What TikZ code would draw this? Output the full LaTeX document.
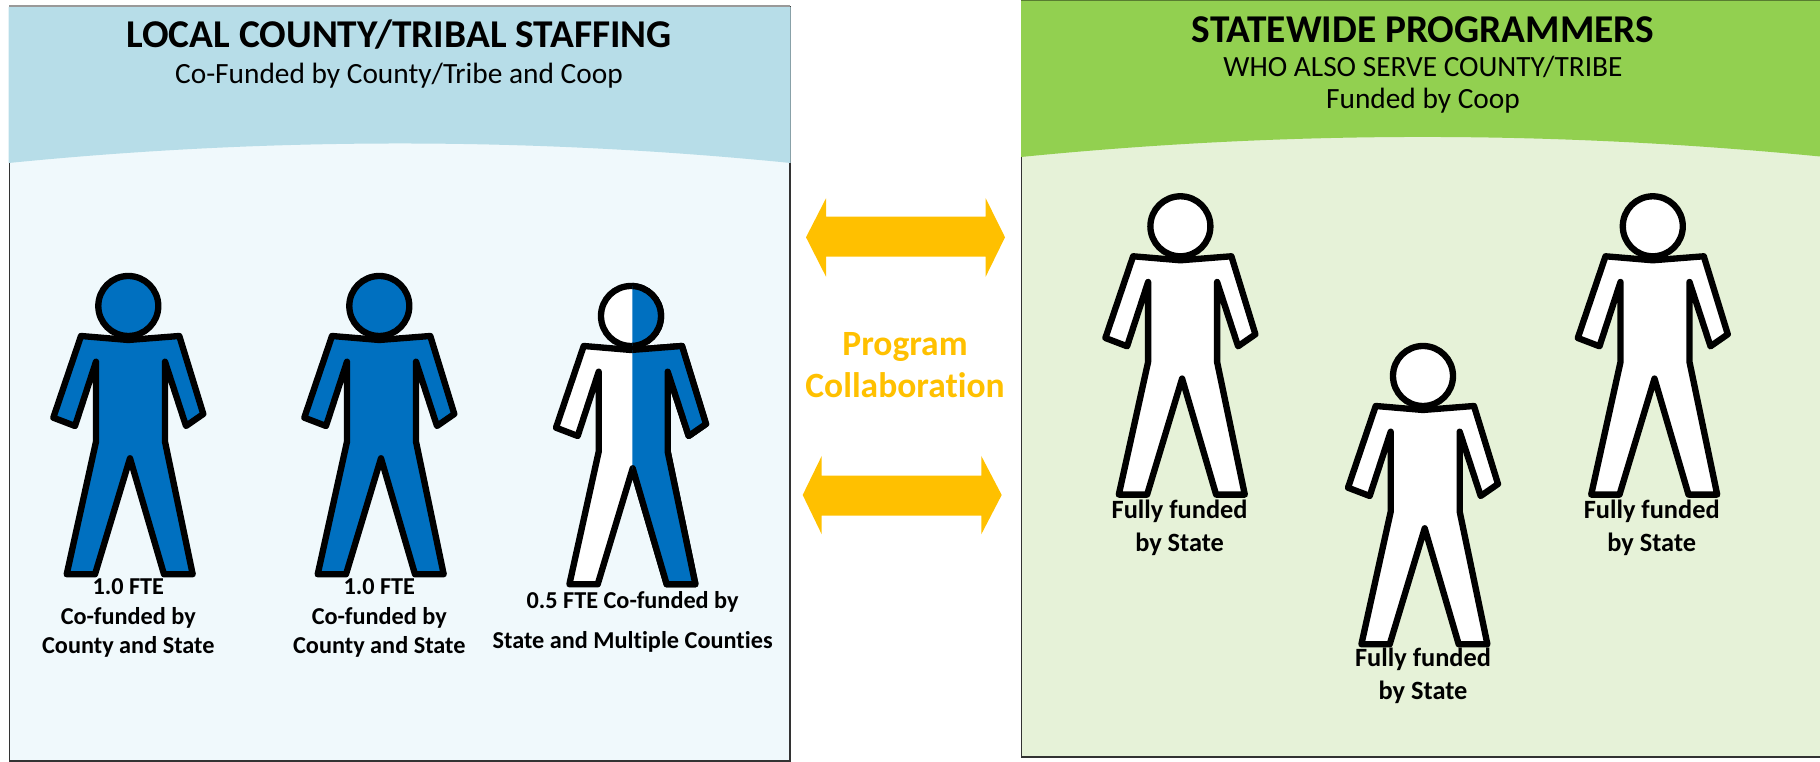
\documentclass[tikz,border=0pt]{standalone}
\usepackage{fontspec}
\setmainfont[Ligatures=NoCommon]{Carlito}
\usepackage{tikz}
\definecolor{headblue}{HTML}{B7DDE8}
\definecolor{bodyblue}{HTML}{F0F9FC}
\definecolor{headgreen}{HTML}{92D050}
\definecolor{bodygreen}{HTML}{E6F2D8}
\definecolor{gold}{HTML}{FFC000}
\definecolor{fteblue}{HTML}{0070C0}

\begin{document}
\begin{tikzpicture}[
    x=0.01cm, y=-0.01cm,
    panel/.style={draw=black!80, line width=0.4pt},
    title/.style={font=\fontsize{11.2pt}{13pt}\selectfont\bfseries, anchor=base, inner sep=0pt},
    subtitle/.style={font=\fontsize{8.35pt}{10pt}\selectfont, anchor=base, inner sep=0pt},
    caption/.style={font=\fontsize{6.9pt}{8.4pt}\selectfont\bfseries, align=center, inner sep=0pt},
    fullcap/.style={font=\fontsize{7.5pt}{8.4pt}\selectfont\bfseries, align=center, inner sep=0pt},
    collab/.style={font=\fontsize{10.1pt}{12pt}\selectfont\bfseries, text=gold, anchor=base, inner sep=0pt},
    arrow/.style={fill=gold},
    pics/person/.style={code={
        \draw[line width=1.8pt, line join=round, fill=#1]
            (0,34) -- (51,30) -- (75,108) -- (57.7,120) -- (36.7,55.7) -- (36.7,135.7)
            -- (64.4,268.3) -- (35.7,268.3) -- (1.7,152.3) -- (-33.3,268.3) -- (-61.6,268.3)
            -- (-32.3,135.7) -- (-32.3,55.7) -- (-53.3,120) -- (-75,111.7) -- (-47.3,30) -- cycle;
        \draw[line width=1.8pt, fill=#1] (0,0) circle[radius=30];
    }}
]
    \useasboundingbox (0,0) rectangle (1820,762);
    % left panel
    \draw[panel, fill=bodyblue] (9.3,7) rectangle (790,761);
    \fill[headblue] (8.7,7) -- (790.6,7) -- (790.6,163) .. controls (530,137) and (270,137) .. (8.7,163) -- cycle;
    \draw[black!40, line width=0.4pt] (9.3,6) -- (790,6);
    \node[title] (localtitle) at (399,48) {LOCAL COUNTY/TRIBAL STAFFING};
    \node[subtitle] (localsub) at (399,83.5) {Co-Funded by County/Tribe and Coop};
    % right panel
    \draw[panel, fill=bodygreen] (1021.5,0) rectangle (1825,757);
    \fill[headgreen] (1021,0.5) -- (1825,0.5) -- (1825,157) .. controls (1555,130.3) and (1290,130.3) .. (1021,157) -- cycle;
    \draw[headgreen!60!black, line width=0.4pt] (1021,0.4) -- (1820,0.4);
    \node[title] (statetitle) at (1423,43) {STATEWIDE PROGRAMMERS};
    \node[subtitle] (statesub) at (1423,77) {WHO ALSO SERVE COUNTY/TRIBE};
    \node[subtitle] (statefund) at (1423,108.5) {Funded by Coop};
    % people
    \pic at (128.3,306) {person=fteblue};
    \pic at (379.3,306) {person=fteblue};
    \pic at (631,316) {person=white};
    \begin{scope}
        \clip (632.3,270) rectangle (720,600);
        \pic at (631,316) {person=fteblue};
    \end{scope}
    \pic at (1180.4,226.3) {person=white};
    \pic at (1423,376) {person=white};
    \pic at (1652.8,226.3) {person=white};
    % captions
    \node[caption] (capa) at (128.3,618) {1.0 FTE\\Co-funded by\\County and State};
    \node[caption] (capb) at (379.3,618) {1.0 FTE\\Co-funded by\\County and State};
    \node[caption] (capc) at (632.6,622) {0.5 FTE Co-funded by\\[3pt]State and Multiple Counties};
    \node[fullcap] (capd) at (1179.6,528) {Fully funded\\[1pt]by State};
    \node[fullcap] (cape) at (1423,676) {Fully funded\\[1pt]by State};
    \node[fullcap] (capf) at (1651.7,528) {Fully funded\\[1pt]by State};
    % collaboration
    \node[collab] (program) at (905,356) {Program};
    \node[collab] (collaboration) at (905,398) {Collaboration};
    \fill[arrow] (806,237.3) -- (826,198.3) -- (826,216.7) -- (985.7,216.7) -- (985.7,198.3)
        -- (1005,237.3) -- (985.7,276.7) -- (985.7,256.7) -- (826,256.7) -- (826,276.7) -- cycle;
    \fill[arrow] (802.7,495) -- (821.7,456) -- (821.7,475.7) -- (981.3,475.7) -- (981.3,456)
        -- (1001.7,495) -- (981.3,534.3) -- (981.3,515.7) -- (821.7,515.7) -- (821.7,534.3) -- cycle;
\end{tikzpicture}
\end{document}
